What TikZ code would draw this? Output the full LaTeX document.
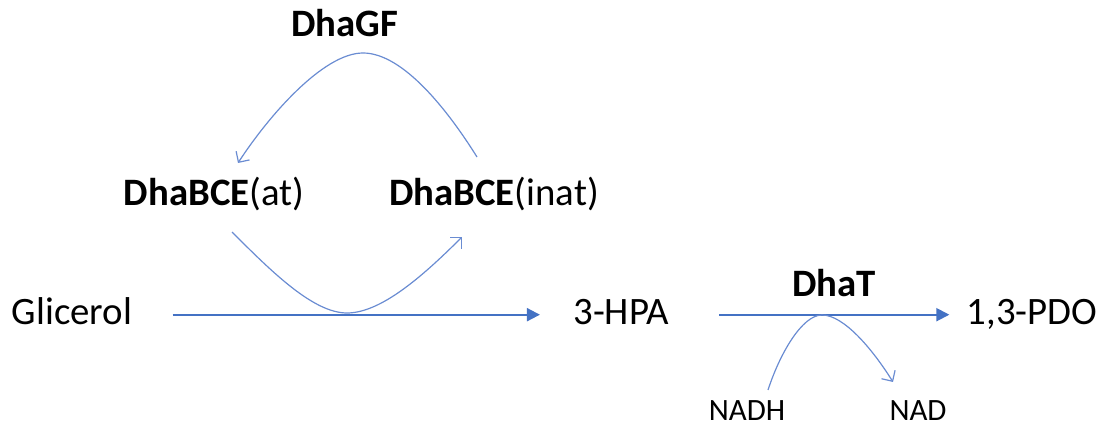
\documentclass[tikz,border=0pt]{standalone}
\usepackage{fontspec}
\setmainfont{Carlito}
\usepackage{tikz}
\usetikzlibrary{arrows.meta}
\definecolor{PathBlue}{HTML}{4472C4}
\definecolor{LoopBlue}{HTML}{6A8CD2}

\begin{document}
\begin{tikzpicture}[x=0.5pt, y=0.5pt,
  every node/.style={font=\fontsize{19.4}{23}\selectfont, inner sep=0pt,
    text height=13.2pt, text depth=2.9pt, anchor=base},
  met/.style={},
  enz/.style={font=\fontsize{19.4}{23}\selectfont\bfseries},
  cof/.style={font=\fontsize{15.5}{19}\selectfont, text height=10.5pt, text depth=0pt},
  arr/.style={-{Triangle[length=6.5pt, width=6.5pt]}, line width=1pt, PathBlue},
  loop/.style={-{Straight Barb[length=4pt, width=8pt]}, line width=0.6pt, LoopBlue}
]
  \useasboundingbox (0,0) rectangle (1101,-426);

  % Metabolites
  \node[met] (gli) at (72,-325) {Glicerol};
  \node[met] (hpa) at (621,-325) {3-HPA};
  \node[met] (pdo) at (1032,-325) {1,3-PDO};

  % Enzymes
  \node[enz] (gf) at (345,-37) {DhaGF};
  \node[met] (at) at (214,-206) {\textbf{DhaBCE}(at)};
  \node[met] (inat) at (494,-206) {\textbf{DhaBCE}(inat)};
  \node[enz] (dhat) at (834,-297) {DhaT};

  % Cofactors
  \node[cof] (nadh) at (747,-421) {NADH};
  \node[cof] (nad) at (918,-421) {NAD};

  % Curve points
  \coordinate (atS) at (232,-232);
  \coordinate (inatS) at (462,-237);
  \coordinate (inatN) at (477,-157);
  \coordinate (atN) at (238,-163);
  \coordinate (gfm) at (363,-53);
  \coordinate (m1) at (347,-313);
  \coordinate (m2) at (822,-315);
  \coordinate (nadhN) at (768,-390);
  \coordinate (nadN) at (893,-382);

  % Main path
  \draw[arr, shorten <=20pt, shorten >=16.5pt] (gli.east) -- (gli.east -| hpa.west);
  \draw[arr, shorten <=25pt, shorten >=8.5pt] (hpa.east) -- (hpa.east -| pdo.west);

  % Side loops
  \draw[loop] (atS) .. controls +(-45:55) and +(180:34) .. (m1)
    .. controls +(0:34) and +(-135:55) .. (inatS);
  \draw[loop] (inatN) .. controls +(122:55) and +(0:40) .. (gfm)
    .. controls +(180:40) and +(57:55) .. (atN);
  \draw[loop] (nadhN) .. controls +(72:38) and +(180:20) .. (m2)
    .. controls +(0:22) and +(122:38) .. (nadN);
\end{tikzpicture}
\end{document}
